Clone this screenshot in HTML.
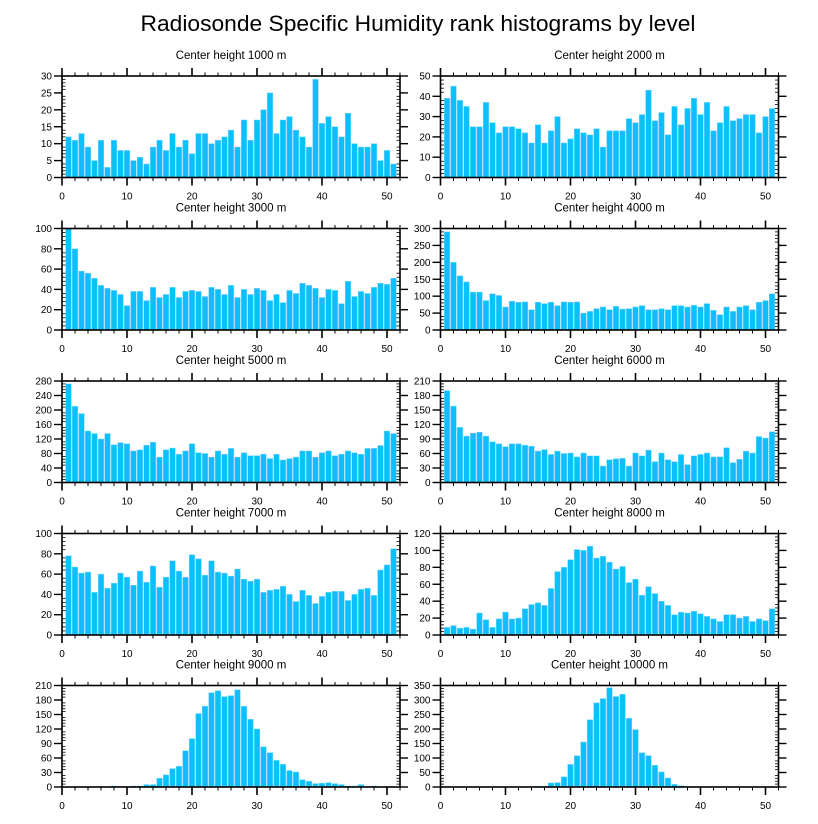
<!DOCTYPE html>
<html><head><meta charset="utf-8"><style>
html,body{margin:0;padding:0;background:#fff;}
svg{display:block;font-family:"Liberation Sans",Arial,sans-serif;}
</style></head><body>
<svg id="chart" width="818" height="824" viewBox="0 0 818 824" xmlns="http://www.w3.org/2000/svg">
<text x="418" y="31" text-anchor="middle" font-size="22" textLength="555" lengthAdjust="spacingAndGlyphs">Radiosonde Specific Humidity rank histograms by level</text>
</svg>
<script>
const heights = ["1000","2000","3000","4000","5000","6000","7000","8000","9000","10000"];
const yMax = [30,50,100,300,280,210,100,120,210,350];
const yStep = [5,10,20,50,40,30,20,20,30,50];
const xTicks = [0,10,20,30,40,50];
const h1000 = [12,11,13,9,5,11,3,11,8,8,5,6,4,9,11,8,13,9,11,7,13,13,10,11,12,14,9,17,11,17,20,25,13,17,18,14,12,9,29,16,18,15,12,19,10,9,9,10,5,8,4];
const h2000 = [39,45,38,35,25,25,37,27,22,25,25,24,22,17,26,17,23,30,17,19,24,22,21,24,15,23,23,23,29,27,31,43,28,32,21,35,26,34,39,31,37,23,27,35,28,29,31,31,22,30,34];
const h3000 = [100,80,58,56,51,44,41,39,35,24,38,38,29,42,32,35,42,32,38,39,38,33,42,40,35,44,32,40,35,41,39,29,35,27,39,36,46,44,41,32,40,39,26,48,33,38,36,42,46,45,51];
const h4000 = [290,200,160,142,112,112,87,107,102,68,85,82,83,60,82,78,82,72,83,82,83,50,55,63,68,60,70,62,63,68,72,60,60,63,60,72,72,68,73,68,78,58,45,68,55,68,72,60,82,87,107];
const h5000 = [272,210,190,142,135,120,135,104,110,107,87,90,103,111,70,90,95,78,87,107,82,80,70,87,78,94,70,82,74,74,78,66,78,62,66,70,87,87,70,82,87,74,78,87,82,78,94,94,102,142,135];
const h6000 = [190,158,114,96,102,104,96,84,80,74,80,80,77,75,65,68,58,65,60,61,53,61,55,55,34,47,49,50,34,61,55,67,43,61,47,43,58,37,55,58,61,53,53,72,41,48,65,61,95,92,105];
const h7000 = [78,67,61,62,42,60,46,51,61,57,49,63,52,68,47,57,73,63,57,79,75,59,73,62,61,58,65,55,53,55,42,44,45,48,40,33,44,39,31,38,42,43,43,34,40,45,46,39,64,69,85];
const h8000 = [9,11,8,9,7,26,18,9,19,27,19,20,31,36,38,35,55,75,80,89,101,100,105,91,93,86,78,81,62,66,47,57,49,40,35,24,27,26,28,25,22,19,16,24,24,20,22,16,19,17,31];
const h9000 = [0,0,0,0,0,1,0,2,1,1,2,2,5,5,18,25,38,43,75,100,152,167,195,199,187,189,201,167,140,120,83,71,55,47,34,31,15,12,7,8,9,7,5,2,2,5,1,2,0,0,0];
const h10000 = [0,0,0,0,0,0,0,0,0,0,0,0,0,1,2,3,14,15,35,78,108,155,232,290,305,342,312,320,237,198,118,108,75,52,31,9,4,2,0,0,0,0,0,0,0,0,0,0,0,0,0];
const series = [h1000,h2000,h3000,h4000,h5000,h6000,h7000,h8000,h9000,h10000];

const NS = "http://www.w3.org/2000/svg";
const svg = document.getElementById('chart');
function mk(tag, attrs, parent){ const e=document.createElementNS(NS,tag); for(const k in attrs) e.setAttribute(k,attrs[k]); (parent||svg).appendChild(e); return e; }

const colX = [62, 440.5], W = 338, H = 101.5;
const rowY = [76, 228.5, 381, 533.5, 685.5];
const XMAX = 52;

for (let p=0;p<10;p++){
  const L = colX[p%2], T = rowY[Math.floor(p/2)], B = T+H, R = L+W;
  const g = mk('g',{});
  
  
  const xs = v => L + v/XMAX*W;
  const ys = v => B - v/yMax[p]*H;
  const t = mk('text',{x:(L+R)/2,y:T-17,'text-anchor':'middle','font-size':'11.5'},g);
  t.textContent = 'Center height '+heights[p]+' m';
  
  
  const data = series[p];
  for (let i=0;i<data.length;i++){
    const v = data[i]; if (v<=0) continue;
    const bw = 0.86/XMAX*W;
    const r = mk('rect',{x:xs(i+1)-bw/2,y:ys(v),width:bw,height:B-ys(v),fill:'#0cbfff',stroke:'#6fd6ff','stroke-width':'0.5'},g);
    
    
  }
  mk('rect',{x:L,y:T,width:W,height:H,fill:'none',stroke:'#000','stroke-width':'1.6'},g);
  // x ticks
  for (let v=0; v<=XMAX; v+=2){
    const maj = v%10===0, len = maj?8:3.5, x = xs(v);
    mk('line',{x1:x,x2:x,y1:B,y2:B+len,stroke:'#000','stroke-width':maj?1.6:1},g);
    mk('line',{x1:x,x2:x,y1:T,y2:T-len,stroke:'#000','stroke-width':maj?1.6:1},g);
  }
  xTicks.forEach(v=>{
    const tl = mk('text',{x:xs(v),y:B+22,'text-anchor':'middle','font-size':'10'},g);
    tl.textContent = v;
    
    
  });
  // y ticks
  const minor = yStep[p]/5;
  for (let v=0; v<=yMax[p]+1e-9; v+=minor){
    const maj = Math.abs(v/yStep[p]-Math.round(v/yStep[p]))<1e-6, y = ys(v);
    if (maj){
      mk('line',{x1:L-8,x2:L,y1:y,y2:y,stroke:'#000','stroke-width':1.4},g);
      mk('line',{x1:R,x2:R+8,y1:y,y2:y,stroke:'#000','stroke-width':1.4},g);
    } else {
      mk('line',{x1:L,x2:L+3.5,y1:y,y2:y,stroke:'#000','stroke-width':0.8},g);
      mk('line',{x1:R-3.5,x2:R,y1:y,y2:y,stroke:'#000','stroke-width':0.8},g);
    }
  }
  for (let v=0; v<=yMax[p]; v+=yStep[p]){
    const yl = mk('text',{x:L-10,y:ys(v)+3.5,'text-anchor':'end','font-size':'10'},g);
    yl.textContent = v;
    
    
  }
}
</script>
</body></html>
